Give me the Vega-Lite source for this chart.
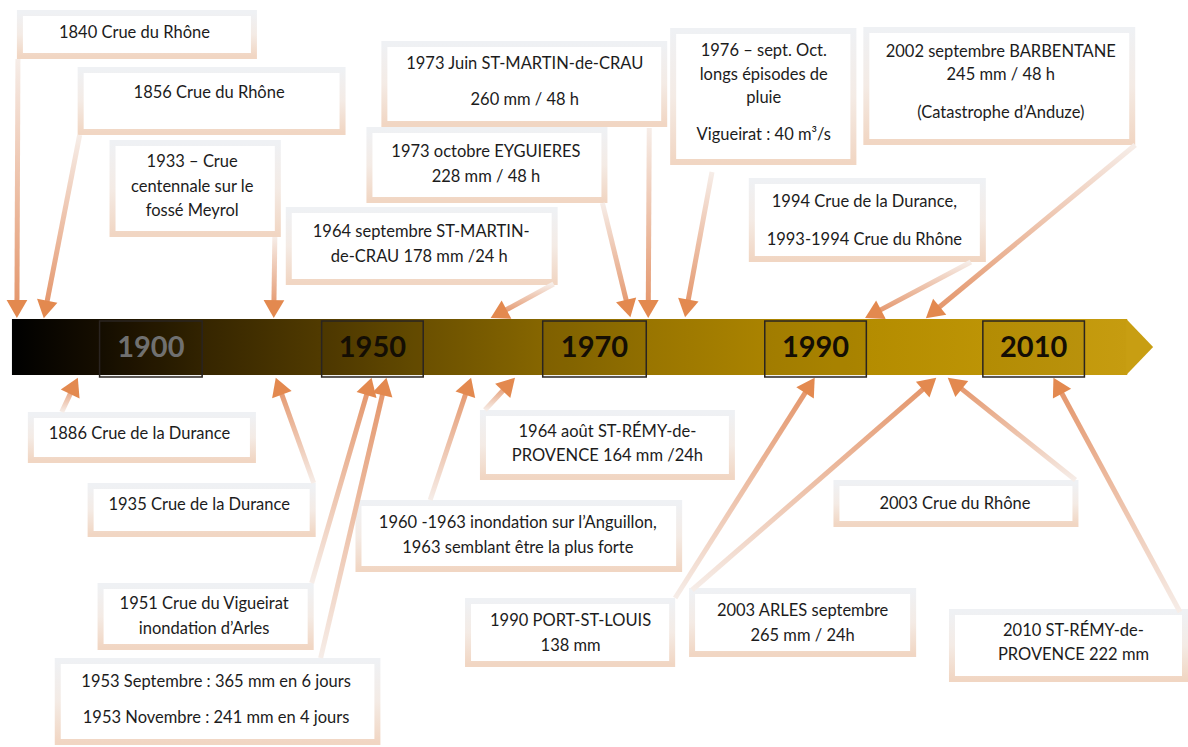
{
  "$schema": "https://vega.github.io/schema/vega-lite/v6.json",
  "width": 1188,
  "height": 747,
  "autosize": {"type": "fit", "contains": "padding"},
  "padding": 0,
  "background": "white",
  "config": {"view": {"stroke": null}},
  "datasets": {
    "boxes": [
      {"id": "1840", "x1": 20, "x2": 255, "y1": 13, "y2": 56},
      {"id": "1856", "x1": 81, "x2": 344, "y1": 70, "y2": 132},
      {"id": "1933", "x1": 113, "x2": 279, "y1": 143, "y2": 234},
      {"id": "1964s", "x1": 290, "x2": 557, "y1": 210, "y2": 282},
      {"id": "1973j", "x1": 386, "x2": 667, "y1": 44, "y2": 124},
      {"id": "1973o", "x1": 371, "x2": 607, "y1": 130, "y2": 200},
      {"id": "1976", "x1": 676, "x2": 857, "y1": 31, "y2": 162},
      {"id": "2002", "x1": 870, "x2": 1137, "y1": 30, "y2": 142},
      {"id": "1994", "x1": 755, "x2": 987, "y1": 181, "y2": 259},
      {"id": "1886", "x1": 31, "x2": 254, "y1": 415, "y2": 460},
      {"id": "1935", "x1": 91, "x2": 314, "y1": 486, "y2": 534},
      {"id": "1951", "x1": 101, "x2": 312, "y1": 586, "y2": 647},
      {"id": "1953", "x1": 58, "x2": 379, "y1": 661, "y2": 742},
      {"id": "1960", "x1": 360, "x2": 682, "y1": 503, "y2": 569},
      {"id": "1964a", "x1": 485, "x2": 735, "y1": 413, "y2": 477},
      {"id": "1990", "x1": 470, "x2": 675, "y1": 601, "y2": 664},
      {"id": "2003a", "x1": 695, "x2": 917, "y1": 591, "y2": 654},
      {"id": "2003r", "x1": 840, "x2": 1080, "y1": 483, "y2": 524},
      {"id": "2010", "x1": 956, "x2": 1190, "y1": 612, "y2": 679}
    ],
    "arrows": [
      {"id": "1840", "side": "top", "x1": 18, "y1": 59, "x2": 17, "y2": 309, "ang": 180.2},
      {"id": "1856", "side": "top", "x1": 80, "y1": 135, "x2": 45.7, "y2": 309.5, "ang": 191.1},
      {"id": "1933", "side": "top", "x1": 276, "y1": 237, "x2": 275, "y2": 309, "ang": 180.7},
      {"id": "1964s", "side": "top", "x1": 556, "y1": 284, "x2": 500.7, "y2": 313.9, "ang": 242},
      {"id": "1973j", "side": "top", "x1": 652, "y1": 128, "x2": 651, "y2": 309, "ang": 180.3},
      {"id": "1973o", "side": "top", "x1": 605, "y1": 203, "x2": 630.9, "y2": 308.6, "ang": 166.2},
      {"id": "1976", "side": "top", "x1": 715, "y1": 172, "x2": 689.6, "y2": 308.4, "ang": 190.5},
      {"id": "2002", "side": "top", "x1": 1140, "y1": 145, "x2": 936.7, "y2": 312.5, "ang": 230.5},
      {"id": "1994", "side": "top", "x1": 975, "y1": 262, "x2": 876.7, "y2": 313.9, "ang": 242.2},
      {"id": "1886", "side": "bottom", "x1": 62, "y1": 412, "x2": 74.3, "y2": 385.9, "ang": 25.2},
      {"id": "1935", "side": "bottom", "x1": 315, "y1": 483, "x2": 280, "y2": 386.2, "ang": -19.9},
      {"id": "1951", "side": "bottom", "x1": 313, "y1": 583, "x2": 370.6, "y2": 386.4, "ang": 16.3},
      {"id": "1953", "side": "bottom", "x1": 322, "y1": 658, "x2": 386, "y2": 386.5, "ang": 13.3},
      {"id": "1960", "side": "bottom", "x1": 432, "y1": 500, "x2": 470.2, "y2": 386.2, "ang": 18.6},
      {"id": "1964a", "side": "bottom", "x1": 487, "y1": 410, "x2": 511, "y2": 384.3, "ang": 43.2},
      {"id": "1990", "side": "bottom", "x1": 678, "y1": 598, "x2": 813.3, "y2": 385.3, "ang": 32.5},
      {"id": "2003a", "side": "bottom", "x1": 695, "y1": 590, "x2": 933.4, "y2": 383.7, "ang": 49.1},
      {"id": "2003r", "side": "bottom", "x1": 1080, "y1": 480, "x2": 958.8, "y2": 383.4, "ang": -51.5},
      {"id": "2010", "side": "bottom", "x1": 1185, "y1": 612, "x2": 1062.2, "y2": 385.7, "ang": -28.5}
    ],
    "labels": [
      {"t": "1840 Crue du Rhône", "x": 135, "y": 33},
      {"t": "1856 Crue du Rhône", "x": 210, "y": 93},
      {"t": "1933 – Crue", "x": 193, "y": 162},
      {"t": "centennale sur le", "x": 193, "y": 187},
      {"t": "fossé Meyrol", "x": 193, "y": 211},
      {"t": "1964 septembre ST-MARTIN-", "x": 423, "y": 232},
      {"t": "de-CRAU 178 mm /24 h", "x": 421, "y": 257},
      {"t": "1973 Juin ST-MARTIN-de-CRAU", "x": 527, "y": 64},
      {"t": "260 mm / 48 h", "x": 527, "y": 100},
      {"t": "1973 octobre EYGUIERES", "x": 488, "y": 152},
      {"t": "228 mm / 48 h", "x": 488, "y": 177},
      {"t": "1976 – sept. Oct.", "x": 767, "y": 51},
      {"t": "longs épisodes de", "x": 767, "y": 75},
      {"t": "pluie", "x": 767, "y": 98},
      {"t": "Vigueirat : 40 m³/s", "x": 767, "y": 135},
      {"t": "2002 septembre BARBENTANE", "x": 1005, "y": 52},
      {"t": "245 mm / 48 h", "x": 1005, "y": 75},
      {"t": "(Catastrophe d’Anduze)", "x": 1005, "y": 113},
      {"t": "1994 Crue de la Durance,", "x": 868, "y": 202},
      {"t": "1993-1994 Crue du Rhône", "x": 868, "y": 240},
      {"t": "1886 Crue de la Durance", "x": 140, "y": 434},
      {"t": "1935 Crue de la Durance", "x": 200, "y": 505},
      {"t": "1951 Crue du Vigueirat", "x": 205, "y": 604},
      {"t": "inondation d’Arles", "x": 205, "y": 629},
      {"t": "1953 Septembre : 365 mm en 6 jours", "x": 217, "y": 682},
      {"t": "1953 Novembre : 241 mm en 4 jours", "x": 217, "y": 718},
      {"t": "1960 -1963 inondation sur l’Anguillon,", "x": 520, "y": 523},
      {"t": "1963 semblant être la plus forte", "x": 520, "y": 548},
      {"t": "1964 août ST-RÉMY-de-", "x": 610, "y": 432},
      {"t": "PROVENCE 164 mm /24h", "x": 610, "y": 456},
      {"t": "1990 PORT-ST-LOUIS", "x": 573, "y": 621},
      {"t": "138 mm", "x": 573, "y": 646},
      {"t": "2003 ARLES septembre", "x": 806, "y": 611},
      {"t": "265 mm / 24h", "x": 806, "y": 636},
      {"t": "2003 Crue du Rhône", "x": 959, "y": 504},
      {"t": "2010 ST-RÉMY-de-", "x": 1078, "y": 631},
      {"t": "PROVENCE 222 mm", "x": 1078, "y": 655}
    ],
    "bar": [{"x1": 12, "x2": 1132, "y1": 319, "y2": 375}],
    "tip": [
      {"x": 1131, "y": 319, "y2": 375},
      {"x": 1158, "y": 347, "y2": 347}
    ],
    "years": [
      {"year": "1900", "x1": 100, "x2": 203, "xc": 151.5},
      {"year": "1950", "x1": 323, "x2": 425, "xc": 374},
      {"year": "1970", "x1": 545, "x2": 649, "xc": 597},
      {"year": "1990", "x1": 768, "x2": 870, "xc": 819},
      {"year": "2010", "x1": 987, "x2": 1089, "xc": 1038}
    ]
  },
  "layer": [
    {
      "data": {"name": "boxes"},
      "mark": {
        "type": "rect",
        "fill": "white",
        "strokeWidth": 6,
        "stroke": {
          "gradient": "linear", "x1": 0, "y1": 0, "x2": 0, "y2": 1,
          "stops": [
            {"offset": 0, "color": "#eff1f4"},
            {"offset": 0.5, "color": "#f4ebe5"},
            {"offset": 1, "color": "#f1d6c3"}
          ]
        }
      },
      "encoding": {
        "x": {"field": "x1", "type": "quantitative", "axis": null, "scale": {"domain": [0, 1188], "nice": false, "zero": false}},
        "x2": {"field": "x2"},
        "y": {"field": "y1", "type": "quantitative", "axis": null, "scale": {"domain": [0, 747], "nice": false, "zero": false, "reverse": true}},
        "y2": {"field": "y2"}
      }
    },
    {
      "data": {"name": "arrows"},
      "transform": [{"filter": "datum.side === 'top'"}],
      "mark": {
        "type": "rule",
        "strokeWidth": 5,
        "stroke": {
          "gradient": "linear", "x1": 0, "y1": 0, "x2": 0, "y2": 1,
          "stops": [
            {"offset": 0, "color": "#f6ede8"},
            {"offset": 1, "color": "#e4956a"}
          ]
        }
      },
      "encoding": {
        "x": {"field": "x1", "type": "quantitative", "axis": null, "scale": {"domain": [0, 1188], "nice": false, "zero": false}},
        "x2": {"field": "x2"},
        "y": {"field": "y1", "type": "quantitative", "axis": null, "scale": {"domain": [0, 747], "nice": false, "zero": false, "reverse": true}},
        "y2": {"field": "y2"}
      }
    },
    {
      "data": {"name": "arrows"},
      "transform": [{"filter": "datum.side === 'bottom'"}],
      "mark": {
        "type": "rule",
        "strokeWidth": 5,
        "stroke": {
          "gradient": "linear", "x1": 0, "y1": 0, "x2": 0, "y2": 1,
          "stops": [
            {"offset": 0, "color": "#e4956a"},
            {"offset": 1, "color": "#f6ede8"}
          ]
        }
      },
      "encoding": {
        "x": {"field": "x1", "type": "quantitative", "axis": null, "scale": {"domain": [0, 1188], "nice": false, "zero": false}},
        "x2": {"field": "x2"},
        "y": {"field": "y1", "type": "quantitative", "axis": null, "scale": {"domain": [0, 747], "nice": false, "zero": false, "reverse": true}},
        "y2": {"field": "y2"}
      }
    },
    {
      "data": {"name": "arrows"},
      "mark": {"type": "point", "shape": "triangle-up", "filled": true, "size": 430, "color": "#e3894f", "opacity": 1, "strokeWidth": 0},
      "encoding": {
        "x": {"field": "x2", "type": "quantitative", "axis": null, "scale": {"domain": [0, 1188], "nice": false, "zero": false}},
        "y": {"field": "y2", "type": "quantitative", "axis": null, "scale": {"domain": [0, 747], "nice": false, "zero": false, "reverse": true}},
        "angle": {"field": "ang", "type": "quantitative", "scale": null}
      }
    },
    {
      "data": {"name": "bar"},
      "mark": {
        "type": "rect",
        "fill": {
          "gradient": "linear", "x1": 0, "y1": 0, "x2": 1, "y2": 0,
          "stops": [
            {"offset": 0, "color": "#000000"},
            {"offset": 0.079, "color": "#160e00"},
            {"offset": 0.17, "color": "#352500"},
            {"offset": 0.275, "color": "#503a00"},
            {"offset": 0.373, "color": "#6c5100"},
            {"offset": 0.476, "color": "#866600"},
            {"offset": 0.57, "color": "#997500"},
            {"offset": 0.677, "color": "#aa8300"},
            {"offset": 0.766, "color": "#b48c00"},
            {"offset": 0.873, "color": "#bd9405"},
            {"offset": 1, "color": "#c69c10"}
          ]
        }
      },
      "encoding": {
        "x": {"field": "x1", "type": "quantitative", "axis": null, "scale": {"domain": [0, 1188], "nice": false, "zero": false}},
        "x2": {"field": "x2"},
        "y": {"field": "y1", "type": "quantitative", "axis": null, "scale": {"domain": [0, 747], "nice": false, "zero": false, "reverse": true}},
        "y2": {"field": "y2"}
      }
    },
    {
      "data": {"name": "tip"},
      "mark": {"type": "area", "color": "#c89e12", "opacity": 1},
      "encoding": {
        "x": {"field": "x", "type": "quantitative", "axis": null, "scale": {"domain": [0, 1188], "nice": false, "zero": false}},
        "y": {"field": "y", "type": "quantitative", "axis": null, "scale": {"domain": [0, 747], "nice": false, "zero": false, "reverse": true}},
        "y2": {"field": "y2"}
      }
    },
    {
      "data": {"name": "years"},
      "mark": {"type": "rect", "fill": "#000000", "fillOpacity": 0.05, "stroke": "#2a2420", "strokeWidth": 1.5},
      "encoding": {
        "x": {"field": "x1", "type": "quantitative", "axis": null, "scale": {"domain": [0, 1188], "nice": false, "zero": false}},
        "x2": {"field": "x2"},
        "y": {"datum": 321, "type": "quantitative", "axis": null, "scale": {"domain": [0, 747], "nice": false, "zero": false, "reverse": true}},
        "y2": {"datum": 377}
      }
    },
    {
      "data": {"name": "years"},
      "mark": {"type": "text", "font": "Lato", "fontWeight": "bold", "fontSize": 29, "align": "center", "baseline": "middle"},
      "encoding": {
        "x": {"field": "xc", "type": "quantitative", "axis": null, "scale": {"domain": [0, 1188], "nice": false, "zero": false}},
        "y": {"datum": 348, "type": "quantitative", "axis": null, "scale": {"domain": [0, 747], "nice": false, "zero": false, "reverse": true}},
        "text": {"field": "year"},
        "color": {"condition": {"test": "datum.year === '1900'", "value": "#707070"}, "value": "#140e04"}
      }
    },
    {
      "data": {"name": "labels"},
      "mark": {"type": "text", "font": "Lato", "fontSize": 16.5, "align": "center", "baseline": "middle", "color": "#1c1c1c"},
      "encoding": {
        "x": {"field": "x", "type": "quantitative", "axis": null, "scale": {"domain": [0, 1188], "nice": false, "zero": false}},
        "y": {"field": "y", "type": "quantitative", "axis": null, "scale": {"domain": [0, 747], "nice": false, "zero": false, "reverse": true}},
        "text": {"field": "t"}
      }
    }
  ]
}
